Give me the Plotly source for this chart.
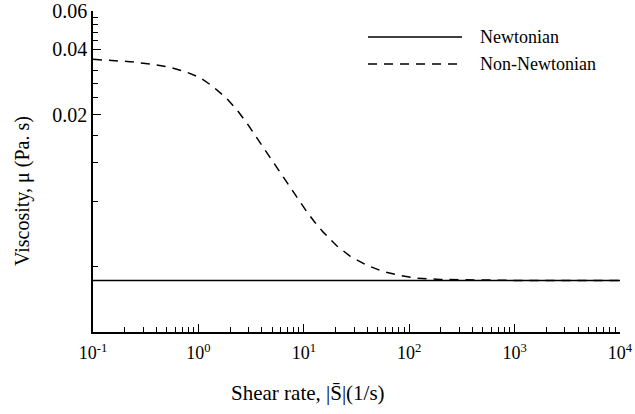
import math
import plotly.graph_objects as go

# Shear-rate sweep (1/s) and viscosity (Pa.s)
shear_newtonian = [0.1, 10000]
visc_newtonian = [0.00345, 0.00345]

shear_non_newtonian = [0.1, 0.224, 0.348, 0.538, 0.746, 1.036, 1.375, 1.855, 2.309,
                       2.873, 3.574, 4.446, 5.533, 6.883, 8.563, 10.65, 12.77, 15.21,
                       20.52, 27.44, 39.54, 56.41, 81.78, 117.8, 196, 500, 1000, 10000]
visc_non_newtonian = [0.0360, 0.03514, 0.03427, 0.0331, 0.03164, 0.0297, 0.02697,
                      0.02377, 0.02112, 0.01838, 0.01569, 0.0134, 0.01144, 0.00977,
                      0.00835, 0.00717, 0.00639, 0.00578, 0.00499, 0.00447, 0.00406,
                      0.0038, 0.00364, 0.00354, 0.00349, 0.00346, 0.003455, 0.00345]

x_tickvals = [0.1, 1, 10, 100, 1000, 10000]
x_ticktext = ["10<sup>-1</sup>", "10<sup>0</sup>", "10<sup>1</sup>",
              "10<sup>2</sup>", "10<sup>3</sup>", "10<sup>4</sup>"]
x_minor = [m * d for d in [0.1, 1, 10, 100, 1000] for m in range(2, 10)]

y_tickvals = [0.02, 0.04, 0.06]
y_ticktext = ["0.02", "0.04", "0.06"]
y_minor = [0.004, 0.008, 0.012, 0.016, 0.024, 0.028, 0.032, 0.036,
           0.044, 0.048, 0.052, 0.056]

FONT = "Liberation Serif, Times New Roman, DejaVu Serif, serif"
L, R, T, B = 93, 15, 11, 82
W, H = 635, 414
pw, ph = W - L - R, H - T - B


def px(xp):
    return (xp - L) / pw


def py(yp):
    return (H - B - yp) / ph


fig = go.Figure()
fig.add_trace(go.Scatter(x=shear_newtonian, y=visc_newtonian, mode="lines",
                         line=dict(color="black", width=1.5), showlegend=False))
fig.add_trace(go.Scatter(x=shear_non_newtonian, y=visc_non_newtonian, mode="lines",
                         line=dict(color="black", width=1.5, dash="9px,7px"),
                         showlegend=False))

axis_common = dict(
    type="log", showgrid=False, zeroline=False, showline=True, automargin=False,
    linecolor="black", linewidth=1.7, mirror=False,
    ticks="inside", ticklen=8, tickwidth=1, tickcolor="black",
    ticklabeloverflow="allow",
)

fig.update_xaxes(
    **axis_common,
    range=[-1, 4], tickmode="array", tickvals=x_tickvals, ticktext=x_ticktext,
    tickfont=dict(family=FONT, size=18, color="black"),
    ticklabelstandoff=4,
    minor=dict(tickmode="array", tickvals=x_minor, ticks="inside", ticklen=5,
               tickwidth=1, tickcolor="black", showgrid=False),
)
fig.update_yaxes(
    **axis_common,
    range=[math.log10(0.002), math.log10(0.0601)], tickmode="array",
    tickvals=y_tickvals, ticktext=y_ticktext,
    tickfont=dict(family=FONT, size=20, color="black"),
    minor=dict(tickmode="array", tickvals=y_minor, ticks="inside", ticklen=5,
               tickwidth=1, tickcolor="black", showgrid=False),
)

# Legend drawn as line samples with labels
fig.add_shape(type="line", xref="paper", yref="paper",
              x0=px(368), x1=px(462), y0=py(37), y1=py(37),
              line=dict(color="black", width=1.5))
fig.add_shape(type="line", xref="paper", yref="paper",
              x0=px(368), x1=px(462), y0=py(64), y1=py(64),
              line=dict(color="black", width=1.5, dash="9px,7px"))
for label, yy in [("Newtonian", 37), ("Non-Newtonian", 64)]:
    fig.add_annotation(text=label, xref="paper", yref="paper", x=px(478), y=py(yy),
                       xanchor="left", yanchor="middle", showarrow=False,
                       font=dict(family=FONT, size=18, color="black"))

# Axis titles
fig.add_annotation(text="Shear rate, |S\u0304|(1/s)", xref="paper", yref="paper",
                   x=px(308), y=py(393), xanchor="center", yanchor="middle",
                   showarrow=False, font=dict(family=FONT, size=21, color="black"))
fig.add_annotation(text="Viscosity, \u03bc (Pa. s)", xref="paper", yref="paper",
                   x=px(22), y=py(191), xanchor="center", yanchor="middle",
                   textangle=-90, showarrow=False,
                   font=dict(family=FONT, size=20, color="black"))

fig.update_layout(
    template="none",
    width=W, height=H,
    margin=dict(l=L, r=R, t=T, b=B),
    paper_bgcolor="white", plot_bgcolor="white",
    font=dict(family=FONT, color="black"),
    showlegend=False,
)

fig.write_html("out.html")
